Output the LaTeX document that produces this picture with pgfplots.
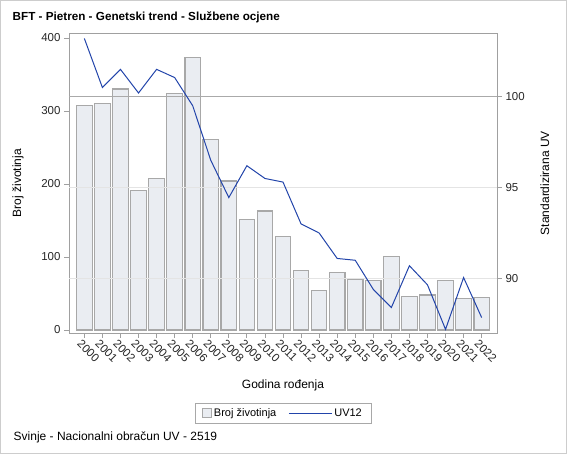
\documentclass[border=0pt]{standalone}
\usepackage{pgfplots}
\pgfplotsset{compat=1.18}
\usepackage{fontspec}
\setmainfont{Liberation Sans}

\definecolor{axisgray}{RGB}{160,160,160}
\definecolor{barfill}{RGB}{234,237,242}
\definecolor{bardraw}{RGB}{168,168,168}
\definecolor{uvblue}{RGB}{34,68,170}
\definecolor{gridlight}{RGB}{228,228,228}
\definecolor{refgray}{RGB}{170,170,170}
\definecolor{framegray}{RGB}{205,205,205}

\pgfplotsset{
  chartbase/.style={
    scale only axis,
    width=428bp, height=300bp,
    at={(69bp,121bp)}, anchor=south west,
    xmin=1999.15, xmax=2022.85,
    tick align=outside,
    major tick length=5bp,
    tick style={axisgray, line width=0.8bp},
    axis line style={axisgray, line width=0.8bp},
    ticklabel style={font=\fontsize{11.5bp}{13bp}\selectfont, text=black!85},
    /pgf/number format/assume math mode=true,
  }
}

\begin{document}
\begin{tikzpicture}
\path[use as bounding box] (0,0) rectangle (567bp,454bp);
\draw[framegray, line width=1bp] (0.5bp,0.5bp) rectangle (566.5bp,453.5bp);

\node[anchor=west, inner sep=0pt, font=\fontsize{11.7bp}{14bp}\selectfont\bfseries]
  at (12.5bp,437bp) {BFT - Pietren - Genetski trend - Službene ocjene};
\node[anchor=west, inner sep=0pt, font=\fontsize{12bp}{14bp}\selectfont]
  at (13.5bp,17bp) {Svinje - Nacionalni obračun UV - 2519};

% left axis: number of animals (bars)
\begin{axis}[
  chartbase,
  ymin=-4.1, ymax=406.8,
  ytick={0,100,200,300,400},
  ytick pos=left,
  xtick={2000,...,2022},
  xtick pos=bottom,
  xticklabels={2000,2001,2002,2003,2004,2005,2006,2007,2008,2009,2010,2011,2012,2013,2014,2015,2016,2017,2018,2019,2020,2021,2022},
  xticklabel style={rotate=-45, anchor=north west, inner sep=0pt, yshift=-2bp, xshift=-1bp},
  xlabel={Godina rođenja},
  ylabel={Broj životinja},
  every axis x label/.style={at={(axis description cs:0.5,-0.173)}, anchor=center,
    font=\fontsize{12bp}{14bp}\selectfont},
  every axis y label/.style={at={(axis description cs:-0.119,0.5)}, rotate=90, anchor=center,
    font=\fontsize{12bp}{14bp}\selectfont},
]
\addplot[ybar, bar width=15.5bp, fill=barfill, draw=bardraw, line width=1.2bp] coordinates {
  (2000,307) (2001,310) (2002,330) (2003,191) (2004,207) (2005,324)
  (2006,373) (2007,261) (2008,204) (2009,151) (2010,163) (2011,128)
  (2012,81) (2013,54) (2014,79) (2015,69) (2016,68) (2017,101)
  (2018,46) (2019,48) (2020,68) (2021,43) (2022,44)
};
\end{axis}

% right axis: standardised breeding value
\begin{axis}[
  chartbase,
  axis x line=none,
  axis y line*=right,
  ymin=87.0, ymax=103.5,
  ytick={90,95},
  extra y ticks={100},
  ymajorgrids,
  major grid style={gridlight, line width=0.8bp},
  extra y tick style={grid=major, major grid style={refgray, line width=0.9bp}},
  ylabel={Standardizirana UV},
  every axis y label/.style={at={(axis description cs:1.112,0.5)}, rotate=90, anchor=center,
    font=\fontsize{12bp}{14bp}\selectfont},
  legend columns=2,
  legend style={
    at={(axis description cs:0.5,-0.267)}, anchor=center,
    draw=bardraw, line width=0.6bp,
    font=\fontsize{11bp}{13bp}\selectfont,
    inner xsep=7bp, inner ysep=3bp,
    /tikz/every even column/.append style={column sep=10bp},
  },
]
\addlegendimage{legend image code/.code={
  \draw[fill=barfill, draw=bardraw, line width=0.8bp] (0bp,-4.5bp) rectangle (9bp,4.5bp);}}
\addlegendentry{Broj životinja}
\addplot[uvblue, line width=1bp, mark=none,
  legend image code/.code={\draw[uvblue, line width=1bp] (0bp,0bp) -- (43bp,0bp);}]
  coordinates {
  (2000,103.2) (2001,100.5) (2002,101.5) (2003,100.2) (2004,101.5) (2005,101.05)
  (2006,99.5) (2007,96.5) (2008,94.45) (2009,96.2) (2010,95.5) (2011,95.3)
  (2012,93.0) (2013,92.5) (2014,91.1) (2015,91.0) (2016,89.4) (2017,88.4)
  (2018,90.7) (2019,89.65) (2020,87.2) (2021,90.05) (2022,87.85)
};
\addlegendentry{UV12}
\end{axis}
\end{tikzpicture}
\end{document}
